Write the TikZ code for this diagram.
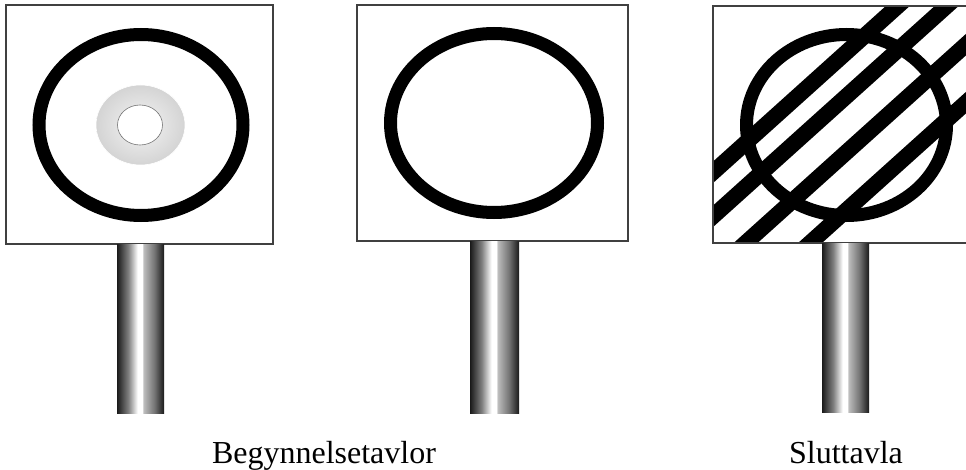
\documentclass[tikz,border=0pt]{standalone}
\usepackage{fontspec}
\setmainfont{Liberation Serif}
\pgfdeclarehorizontalshading{poleshade}{100bp}{%
  color(0bp)=(black!90);
  color(25bp)=(black!90);
  color(37bp)=(black!50);
  color(47bp)=(white);
  color(52bp)=(white);
  color(53bp)=(black!25);
  color(65bp)=(black!55);
  color(75bp)=(black!90);
  color(100bp)=(black!90)}
\tikzset{
  panel/.style={draw=black!75, line width=1.1pt, fill=white},
  ring/.style={draw=black, line width=13pt},
  stripe/.style={draw=black, line width=16pt},
  pole/.style={shading=poleshade},
  lbl/.style={inner sep=0pt, anchor=base, font=\fontsize{32pt}{38pt}\selectfont}
}
\begin{document}
\begin{tikzpicture}[x=1pt,y=-1pt]
\useasboundingbox (0,0) rectangle (966,470);
% panel 1
\draw[panel] (6,5) rectangle (273,244);
\draw[ring] (141,125) ellipse [x radius=102, y radius=90.5];
\shade[inner color=black!4, outer color=black!17] (140.5,125) ellipse [x radius=44.5, y radius=40];
\draw[white, line width=0.6pt] (140.5,125) ellipse [x radius=44.5, y radius=40];
\draw[fill=white, draw=black!55, line width=0.6pt] (140,125) ellipse [x radius=22.5, y radius=20];
\shade[pole] (117,245) rectangle (164,413);
% panel 2
\draw[panel] (357,5) rectangle (628,241);
\draw[ring] (494,123) ellipse [x radius=103.5, y radius=89.5];
\shade[pole] (470,242) rectangle (519,413);
% panel 3
\draw[panel] (713,6) rectangle (975,243);
\draw[ring] (846.5,125) ellipse [x radius=100, y radius=90.5];
\begin{scope}
  \clip (713,6) rectangle (975,243);
  \foreach \c in {814,858,914,972} {
    \draw[stripe] (650,{\c-0.9*650}) -- (1000,{\c-0.9*1000});
  }
\end{scope}
\draw[draw=black!75, line width=1.1pt] (713,6) rectangle (975,243);
\shade[pole] (822,244) rectangle (869,412);
% labels
\node[lbl] (t1) at (324,463) {Begynnelsetavlor};
\node[lbl] (t2) at (846,463) {Sluttavla};
\end{tikzpicture}
\end{document}
